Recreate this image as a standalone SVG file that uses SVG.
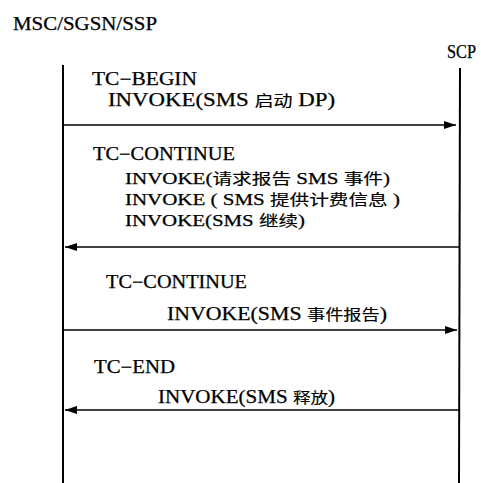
<svg xmlns="http://www.w3.org/2000/svg" width="481" height="483" viewBox="0 0 481 483">
<style>
text{font-family:"Liberation Serif",serif;font-size:18px;fill:#000;stroke:#000;stroke-width:0.25}
.sm{font-size:16px}
.cjk{font-family:"Noto Sans CJK SC",sans-serif;font-size:15px;stroke-width:0.15}
.life{stroke:#000;stroke-width:2;fill:none}
.msg{stroke:#000;stroke-width:1.6;fill:none;marker-end:url(#ah)}
</style>
<defs>
<marker id="ah" viewBox="0 0 12 8" refX="12" refY="4" markerWidth="12" markerHeight="8" markerUnits="userSpaceOnUse" orient="auto">
<path d="M0,0L12,4L0,8z" fill="#000"/>
</marker>
</defs>
<rect width="481" height="483" fill="#fff"/>
<g id="node-msc">
<text x="13" y="30" textLength="144" lengthAdjust="spacingAndGlyphs">MSC/SGSN/SSP</text>
<line class="life" x1="63" y1="65" x2="63" y2="483"/>
</g>
<g id="node-scp">
<text x="447" y="58" textLength="29" lengthAdjust="spacingAndGlyphs">SCP</text>
<line class="life" x1="460" y1="68" x2="459" y2="483"/>
</g>
<g id="connectors">
<line class="msg" x1="64" y1="125" x2="456" y2="125"/>
<line class="msg" x1="459" y1="247" x2="65" y2="247"/>
<line class="msg" x1="64" y1="330" x2="457" y2="330"/>
<line class="msg" x1="459" y1="410" x2="65" y2="410"/>
</g>
<g id="labels">
<text x="92" y="85" textLength="105" lengthAdjust="spacingAndGlyphs">TC−BEGIN</text>
<text x="108" y="106" textLength="227" lengthAdjust="spacingAndGlyphs">INVOKE(SMS <tspan class="cjk">启动</tspan> DP)</text>
<text x="93" y="160" textLength="142" lengthAdjust="spacingAndGlyphs">TC−CONTINUE</text>
<text class="sm" x="125" y="184" textLength="265" lengthAdjust="spacingAndGlyphs">INVOKE(<tspan class="cjk">请求报告</tspan> SMS <tspan class="cjk">事件</tspan>)</text>
<text class="sm" x="125" y="205" textLength="275" lengthAdjust="spacingAndGlyphs">INVOKE ( SMS <tspan class="cjk">提供计费信息</tspan> )</text>
<text class="sm" x="125" y="226" textLength="180" lengthAdjust="spacingAndGlyphs">INVOKE(SMS <tspan class="cjk">继续</tspan>)</text>
<text x="106" y="288" textLength="141" lengthAdjust="spacingAndGlyphs">TC−CONTINUE</text>
<text x="167" y="320" textLength="220" lengthAdjust="spacingAndGlyphs">INVOKE(SMS <tspan class="cjk">事件报告</tspan>)</text>
<text x="94" y="373" textLength="81" lengthAdjust="spacingAndGlyphs">TC−END</text>
<text x="158" y="403" textLength="177" lengthAdjust="spacingAndGlyphs">INVOKE(SMS <tspan class="cjk">释放</tspan>)</text>
</g>
</svg>
